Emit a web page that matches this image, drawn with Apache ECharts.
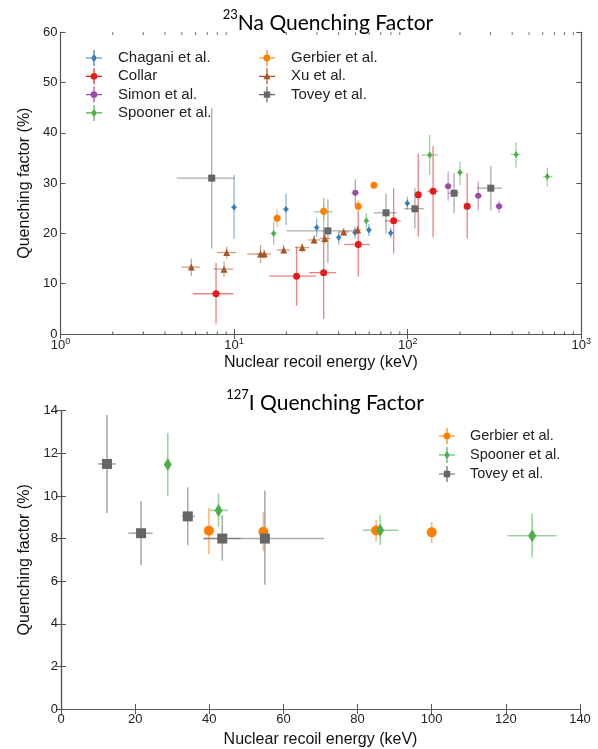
<!DOCTYPE html>
<html style="height: 100%">
<head>
<meta charset="utf-8">
<script src="https://cdn.jsdelivr.net/npm/echarts@6/dist/echarts.min.js"></script>
</head>
<body style="height: 100%; margin: 0; background: #fff">
<div id="container" style="width: 598px; height: 749px"></div>
<script type="text/javascript">
// rows: [energy, energyLow, energyHigh, QF, QFlow, QFhigh]
var naChagani = [
    [10.0, 9.6, 10.4, 25.2, 18.9, 31.6],
    [19.9, 19.1, 20.7, 24.8, 21.7, 28.0],
    [29.9, 28.8, 31.0, 21.2, 19.3, 23.0],
    [40.1, 38.6, 41.6, 19.2, 17.7, 20.3],
    [49.7, 47.9, 51.5, 20.2, 19.0, 21.4],
    [59.8, 57.6, 62.0, 20.7, 19.5, 21.9],
    [79.8, 76.9, 82.7, 20.1, 19.1, 21.1],
    [99.5, 95.9, 103, 26.0, 24.7, 27.3]
];
var naCollar = [
    [7.87, 5.77, 9.9, 8.0, 2.1, 14.1],
    [22.9, 15.9, 29.6, 11.5, 5.6, 17.4],
    [32.8, 27.1, 38.6, 12.2, 3.0, 21.4],
    [51.9, 43.1, 60.6, 17.8, 11.4, 24.3],
    [83.0, 74.0, 91.2, 22.5, 16.0, 29.0],
    [115, 111, 119, 27.7, 19.4, 35.9],
    [140, 130, 150, 28.4, 19.2, 37.4],
    [220, 214, 226, 25.4, 19.0, 32.0]
];
var naSimon = [
    [49.9, 47.5, 52.4, 28.1, 25.4, 30.8],
    [171, 163, 179, 29.4, 26.5, 32.3],
    [255, 243, 268, 27.5, 24.6, 30.3],
    [336, 320, 352, 25.4, 24.1, 26.5]
];
var naSpooner = [
    [16.9, 16.2, 17.6, 20.0, 17.7, 22.3],
    [32.9, 28.9, 37.0, 24.3, 21.5, 27.1],
    [57.8, 55.5, 60.1, 22.5, 20.8, 24.0],
    [134, 120, 150, 35.6, 31.6, 39.6],
    [200, 192, 208, 32.1, 29.6, 34.3],
    [421, 392, 448, 35.7, 33.1, 38.1],
    [637, 604, 681, 31.3, 29.3, 33.1]
];
var naGerbier = [
    [17.7, 16.9, 18.5, 23.0, 21.3, 24.8],
    [32.8, 31.5, 34.1, 24.4, 22.6, 26.2],
    [51.9, 49.8, 54.0, 25.4, 24.2, 26.6],
    [63.9, 61.8, 66.0, 29.6, 29.0, 30.2]
];
var naXu = [
    [5.67, 4.99, 6.36, 13.3, 11.5, 15.0],
    [8.75, 7.59, 9.9, 12.9, 11.4, 14.4],
    [9.06, 7.94, 10.3, 16.2, 15.0, 17.4],
    [14.2, 11.9, 15.4, 15.9, 14.1, 17.7],
    [14.9, 13.6, 16.3, 15.9, 15.0, 16.8],
    [19.3, 17.6, 21.0, 16.7, 15.9, 17.7],
    [24.7, 22.4, 27.1, 17.2, 16.2, 18.0],
    [28.9, 26.8, 31.2, 18.7, 17.9, 19.7],
    [33.3, 31.0, 35.8, 19.0, 18.0, 20.0],
    [42.8, 40.0, 45.8, 20.3, 19.5, 21.1],
    [51.5, 49.0, 54.0, 20.7, 19.9, 21.5]
];
var naTovey = [
    [7.43, 4.67, 10.1, 31.0, 17.0, 45.0],
    [34.7, 20.1, 53.1, 20.5, 14.1, 26.8],
    [75.0, 63.9, 86.4, 24.1, 20.0, 28.0],
    [110, 95.2, 124, 24.9, 21.0, 29.0],
    [185, 171, 198, 28.0, 24.0, 32.0],
    [301, 250, 348, 29.0, 24.5, 33.4]
];
var iGerbier = [
    [39.9, 39.9, 39.9, 8.37, 7.28, 9.43],
    [54.6, 54.6, 54.6, 8.32, 7.40, 9.25],
    [85.0, 85.0, 85.0, 8.38, 7.86, 8.86],
    [100, 100, 100, 8.29, 7.78, 8.78]
];
var iSpooner = [
    [28.8, 28.8, 28.8, 11.47, 10.0, 12.95],
    [42.5, 40.2, 45.0, 9.32, 8.55, 10.1],
    [86.1, 81.5, 91.0, 8.39, 7.70, 9.09],
    [127.1, 120.4, 133.7, 8.13, 7.12, 9.17]
];
var iTovey = [
    [12.4, 9.9, 14.8, 11.5, 9.2, 13.8],
    [21.6, 18.2, 24.7, 8.25, 6.75, 9.75],
    [34.2, 32.6, 36.1, 9.04, 7.70, 10.4],
    [43.5, 38.4, 48.5, 8.0, 6.96, 9.1],
    [55.0, 38.4, 70.9, 8.0, 5.83, 10.25]
];
var logMinorTicks = [2, 3, 4, 5, 6, 7, 8, 9, 20, 30, 40, 50, 60, 70, 80, 90, 200, 300, 400, 500, 600, 700, 800, 900];

var FONT = 'Liberation Sans';
var AXIS = '#555';

// legend icons: error-bar cross plus marker
var crossPath = 'M0,7.4H16V8.6H0Z M7.4,0H8.6V16H7.4Z ';
var icons = {
    circle: 'path://' + crossPath + 'M8,4.6A3.4,3.4 0 1,1 7.99,4.6Z',
    diamond: 'path://' + crossPath + 'M8,3.5L10.8,8L8,12.5L5.2,8Z',
    triangle: 'path://' + crossPath + 'M8,4.3L11.6,11L4.4,11Z',
    square: 'path://' + crossPath + 'M4.8,4.8H11.2V11.2H4.8Z'
};

function errRender(lw) {
    return function (params, api) {
        var e = api.value(0), q = api.value(3);
        var a = api.coord([api.value(1), q]), b = api.coord([api.value(2), q]);
        var c = api.coord([e, api.value(4)]), d = api.coord([e, api.value(5)]);
        var st = {stroke: api.visual('color'), lineWidth: lw, opacity: 0.55};
        return {type: 'group', children: [
            {type: 'line', shape: {x1: a[0], y1: a[1], x2: b[0], y2: b[1]}, style: st},
            {type: 'line', shape: {x1: c[0], y1: c[1], x2: d[0], y2: d[1]}, style: st}
        ]};
    };
}

// minor ticks of the log axis, bottom and top edges
function minorTickRender(params, api) {
    var cs = params.coordSys;
    var p = api.coord([api.value(0), 0]);
    var st = {stroke: AXIS, lineWidth: 1};
    return {type: 'group', children: [
        {type: 'line', shape: {x1: p[0], y1: cs.y + cs.height, x2: p[0], y2: cs.y + cs.height - 2.5}, style: st},
        {type: 'line', shape: {x1: p[0], y1: cs.y, x2: p[0], y2: cs.y + 2.5}, style: st}
    ]};
}

var series = [{
    name: 'minor ticks', type: 'custom', xAxisIndex: 0, yAxisIndex: 0,
    renderItem: minorTickRender, encode: {x: 0, y: 1}, silent: true, z: 1,
    data: logMinorTicks.map(function (v) { return [v, 0]; })
}];
function addSet(name, rows, color, symbol, size, xi, yi, lw) {
    series.push({
        name: name + ' err', type: 'custom', xAxisIndex: xi, yAxisIndex: yi,
        renderItem: errRender(lw), itemStyle: {color: color},
        encode: {x: 0, y: 3}, data: rows, z: 2, silent: true
    });
    series.push({
        name: name, type: 'scatter', xAxisIndex: xi, yAxisIndex: yi,
        symbol: symbol, symbolSize: size, itemStyle: {color: color, opacity: 1},
        data: rows.map(function (r) { return [r[0], r[3]]; }), z: 3, silent: true
    });
}
addSet('Chagani et al.', naChagani, '#377eb8', 'diamond', [5, 7], 0, 0, 1.3);
addSet('Collar', naCollar, '#e41a1c', 'circle', 7, 0, 0, 1.3);
addSet('Simon et al.', naSimon, '#984ea3', 'circle', 6, 0, 0, 1.3);
addSet('Spooner et al.', naSpooner, '#4daf4a', 'diamond', [5, 7], 0, 0, 1.3);
addSet('Gerbier et al.', naGerbier, '#ff7f00', 'circle', 7, 0, 0, 1.3);
addSet('Xu et al.', naXu, '#a65628', 'triangle', 7, 0, 0, 1.3);
addSet('Tovey et al.', naTovey, '#666666', 'rect', 7, 0, 0, 1.3);
addSet('Gerbier et al. ', iGerbier, '#ff7f00', 'circle', 10, 2, 2, 1.6);
addSet('Spooner et al. ', iSpooner, '#4daf4a', 'diamond', [8, 13], 2, 2, 1.6);
addSet('Tovey et al. ', iTovey, '#666666', 'rect', 10, 2, 2, 1.6);

var labelStyle = {color: '#222', fontFamily: FONT, fontSize: 13};
var lineStyle = {show: true, lineStyle: {color: AXIS, width: 1.2}};

function tickAxis(base, extra) {
    var a = Object.assign({
        axisLine: lineStyle,
        axisTick: {show: true, inside: true, length: 5, lineStyle: {color: AXIS}},
        splitLine: {show: false},
        axisLabel: {show: false}
    }, base);
    return Object.assign(a, extra || {});
}

var logX = {type: 'log', logBase: 10, min: 1, max: 1000, gridIndex: 0};
var supLabel = {
    show: true, color: '#222', fontFamily: FONT, fontSize: 13, margin: 3,
    formatter: function (v) { return '{b|10}{s|' + Math.round(Math.log10(v)) + '}'; },
    rich: {
        b: {fontFamily: FONT, fontSize: 13, color: '#222', lineHeight: 15, verticalAlign: 'bottom'},
        s: {fontFamily: FONT, fontSize: 9, color: '#222', lineHeight: 9, verticalAlign: 'top'}
    }
};
var nameText = {fontFamily: FONT, fontSize: 16, color: '#111'};
var titleRich = {
    b: {fontFamily: 'Lato', fontWeight: 'normal', fontSize: 21, color: '#000', lineHeight: 26, verticalAlign: 'bottom'},
    s: {fontFamily: 'Lato', fontWeight: 'normal', fontSize: 13, color: '#000', lineHeight: 13, verticalAlign: 'top'}
};
var legendText = function (size, pad) {
    return {fontFamily: FONT, fontSize: size, color: '#222', padding: [0, 0, 0, pad]};
};

var option = {
    animation: false,
    backgroundColor: '#fff',
    title: [
        {text: '{s|23}{b|Na Quenching Factor}', left: 323, top: 3, textAlign: 'center',
            textStyle: {fontWeight: 'normal', rich: titleRich}},
        {text: '{s|127}{b|I Quenching Factor}', left: 320, top: 383, textAlign: 'center',
            textStyle: {fontWeight: 'normal', rich: titleRich}}
    ],
    legend: [
        {
            data: [
                {name: 'Chagani et al.', icon: icons.diamond},
                {name: 'Collar', icon: icons.circle},
                {name: 'Simon et al.', icon: icons.circle},
                {name: 'Spooner et al.', icon: icons.diamond}
            ],
            orient: 'vertical', left: 81, top: 45, itemWidth: 16, itemHeight: 16, itemGap: 2.3,
            textStyle: legendText(15, 11), selectedMode: false
        },
        {
            data: [
                {name: 'Gerbier et al.', icon: icons.circle},
                {name: 'Xu et al.', icon: icons.triangle},
                {name: 'Tovey et al.', icon: icons.square}
            ],
            orient: 'vertical', left: 254, top: 45, itemWidth: 16, itemHeight: 16, itemGap: 2.3,
            textStyle: legendText(15, 11), selectedMode: false
        },
        {
            data: [
                {name: 'Gerbier et al. ', icon: icons.circle},
                {name: 'Spooner et al. ', icon: icons.diamond},
                {name: 'Tovey et al. ', icon: icons.square}
            ],
            orient: 'vertical', left: 434, top: 423, itemWidth: 16, itemHeight: 16, itemGap: 3,
            textStyle: legendText(14.5, 10), selectedMode: false
        }
    ],
    grid: [
        {left: 60.5, right: 16.7, top: 32.3, bottom: 415},
        {left: 61, right: 18, top: 410.7, bottom: 36}
    ],
    xAxis: [
        tickAxis(logX, {
            position: 'bottom', axisLabel: supLabel,
            name: 'Nuclear recoil energy (keV)', nameLocation: 'middle', nameGap: 21, nameTextStyle: nameText
        }),
        tickAxis(logX, {position: 'top'}),
        tickAxis({type: 'value', min: 0, max: 140, interval: 20, gridIndex: 1}, {
            position: 'bottom', axisLabel: Object.assign({show: true, margin: 4}, labelStyle),
            name: 'Nuclear recoil energy (keV)', nameLocation: 'middle', nameGap: 23, nameTextStyle: nameText
        }),
        tickAxis({type: 'value', min: 0, max: 140, interval: 20, gridIndex: 1}, {position: 'top'})
    ],
    yAxis: [
        tickAxis({type: 'value', min: 0, max: 60, interval: 10, gridIndex: 0}, {
            position: 'left', axisLabel: Object.assign({show: true, margin: 3}, labelStyle),
            name: 'Quenching factor (%)', nameLocation: 'middle', nameGap: 22, nameTextStyle: nameText
        }),
        tickAxis({type: 'value', min: 0, max: 60, interval: 10, gridIndex: 0}, {position: 'right'}),
        tickAxis({type: 'value', min: 0, max: 14, interval: 2, gridIndex: 1}, {
            position: 'left', axisLabel: Object.assign({show: true, margin: 3}, labelStyle),
            name: 'Quenching factor (%)', nameLocation: 'middle', nameGap: 22, nameTextStyle: nameText
        }),
        tickAxis({type: 'value', min: 0, max: 14, interval: 2, gridIndex: 1}, {position: 'right'})
    ],
    series: series
};

var myChart = echarts.init(document.getElementById('container'));
myChart.setOption(option);
</script>
</body>
</html>
